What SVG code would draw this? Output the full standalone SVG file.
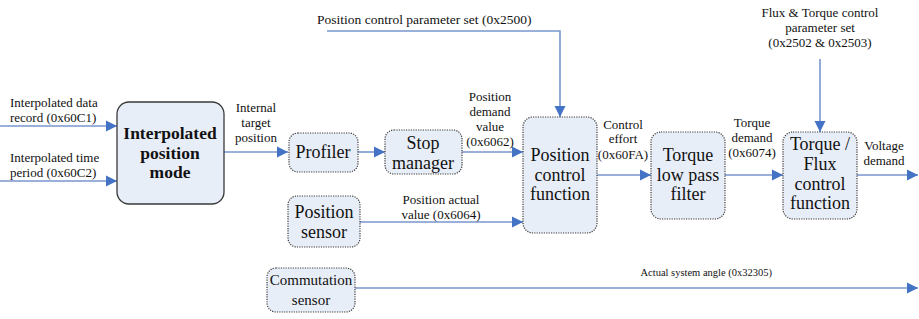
<svg xmlns="http://www.w3.org/2000/svg" width="919" height="319" viewBox="0 0 919 319" font-family="Liberation Serif, DejaVu Serif, serif">
<defs>
<marker id="ah" markerUnits="userSpaceOnUse" markerWidth="12" markerHeight="12" refX="11" refY="6" orient="auto">
<path d="M0,0.5 L11,6 L0,11.5 Z" fill="#4472c4"/>
</marker>
<style>
.bg{fill:#ffffff}
.box{fill:#e8eef8;stroke:#3a3a3a;stroke-width:1.2;stroke-dasharray:1.2 1.2}
.solid{fill:#e8eef8;stroke:#3a3a3a;stroke-width:1.3}
.ln{fill:none;stroke:#7896cf;stroke-width:1.6}
.arr{marker-end:url(#ah)}
.t{font-size:18px;text-anchor:middle;fill:#111}
.b{font-size:17.5px;font-weight:bold;text-anchor:middle;fill:#111}
.s{font-size:13px;text-anchor:middle;fill:#111}
.sl{font-size:13px;fill:#111}
</style>
</defs>
<rect class="bg" x="0" y="0" width="919" height="319"/>

<g id="connectors">
<path class="ln arr" d="M0,126 H117"/>
<path class="ln arr" d="M0,181 H117"/>
<path class="ln arr" d="M224,152 H288"/>
<path class="ln arr" d="M358,152 H385"/>
<path class="ln arr" d="M462,152 H523"/>
<path class="ln arr" d="M360,222 H523"/>
<path class="ln arr" d="M327,31 H560 V117"/>
<path class="ln arr" d="M597,175 H651"/>
<path class="ln arr" d="M725,175 H783"/>
<path class="ln arr" d="M820,59 V132"/>
<path class="ln arr" d="M857,175 H918"/>
<path class="ln arr" d="M355,288 H918"/>
</g>

<g id="labels" font-family="Liberation Serif, DejaVu Serif, serif">
<text class="sl" x="10" y="107">Interpolated data</text>
<text class="sl" x="10" y="122">record (0x60C1)</text>
<text class="sl" x="10" y="162">Interpolated time</text>
<text class="sl" x="10" y="177">period (0x60C2)</text>
<text class="s" x="256" y="112">Internal</text>
<text class="s" x="256" y="127">target</text>
<text class="s" x="256" y="142">position</text>
<text class="s" x="490" y="101">Position</text>
<text class="s" x="490" y="116">demand</text>
<text class="s" x="490" y="131">value</text>
<text class="s" x="490" y="146">(0x6062)</text>
<text class="s" x="441" y="204">Position actual</text>
<text class="s" x="441" y="219">value (0x6064)</text>
<text class="sl" x="317" y="24" style="font-size:13.5px">Position control parameter set (0x2500)</text>
<text class="s" x="623" y="129">Control</text>
<text class="s" x="623" y="143">effort</text>
<text class="s" x="623" y="159">(0x60FA)</text>
<text class="s" x="752" y="127">Torque</text>
<text class="s" x="752" y="142">demand</text>
<text class="s" x="752" y="157">(0x6074)</text>
<text class="s" x="820" y="17">Flux &amp; Torque control</text>
<text class="s" x="820" y="32">parameter set</text>
<text class="s" x="820" y="47">(0x2502 &amp; 0x2503)</text>
<text class="s" x="884" y="150">Voltage</text>
<text class="s" x="884" y="165">demand</text>
<text class="sl" x="772" y="276" style="font-size:10.5px;text-anchor:end">Actual system angle (0x32305)</text>
</g>

<g id="ipm">
<rect class="solid" x="117" y="102" width="107" height="102" rx="12"/>
<text class="b" x="170" y="139">Interpolated</text>
<text class="b" x="170" y="159">position</text>
<text class="b" x="170" y="178">mode</text>
</g>

<g id="profiler">
<rect class="box" x="289" y="133" width="69" height="39" rx="9"/>
<text class="t" x="323" y="158">Profiler</text>
</g>

<g id="stop-manager">
<rect class="box" x="385" y="130" width="77" height="44" rx="9"/>
<text class="t" x="423" y="149">Stop</text>
<text class="t" x="423" y="169">manager</text>
</g>

<g id="position-sensor">
<rect class="box" x="288" y="196" width="72" height="51" rx="9"/>
<text class="t" x="324" y="218">Position</text>
<text class="t" x="324" y="238">sensor</text>
</g>

<g id="position-control">
<rect class="box" x="523" y="117" width="74" height="116" rx="10"/>
<text class="t" x="560" y="161">Position</text>
<text class="t" x="560" y="181">control</text>
<text class="t" x="560" y="200">function</text>
</g>

<g id="torque-lpf">
<rect class="box" x="651" y="132" width="74" height="87" rx="10"/>
<text class="t" x="688" y="161">Torque</text>
<text class="t" x="688" y="181">low pass</text>
<text class="t" x="688" y="200">filter</text>
</g>

<g id="torque-flux">
<rect class="box" x="783" y="132" width="74" height="87" rx="10"/>
<text class="t" x="820" y="150">Torque /</text>
<text class="t" x="820" y="170">Flux</text>
<text class="t" x="820" y="190">control</text>
<text class="t" x="820" y="209">function</text>
</g>

<g id="commutation-sensor">
<rect class="box" x="267" y="268" width="88" height="44" rx="9"/>
<text class="t" x="311" y="285" style="font-size:15px">Commutation</text>
<text class="t" x="311" y="305" style="font-size:15px">sensor</text>
</g>
</svg>
